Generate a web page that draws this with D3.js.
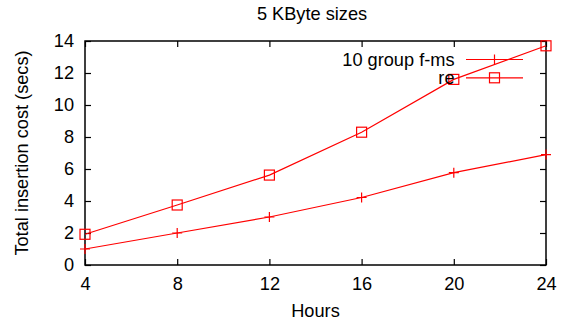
<!DOCTYPE html>
<html><head><meta charset="utf-8">
<script src="https://cdn.jsdelivr.net/npm/d3@7"></script>
<style>body{margin:0;background:#fff}svg{display:block}text{font-family:"Liberation Sans",Arial,sans-serif;fill:#000}</style>
</head><body>
<script>
const hours = [4, 8, 12, 16, 20, 24];
const fmsValues = [1.0, 2.0, 3.0, 4.22, 5.77, 6.9];
const reValues = [1.92, 3.75, 5.62, 8.3, 11.6, 13.7];
const seriesNames = ["10 group f-ms", "re"];
const xTicks = [4, 8, 12, 16, 20, 24];
const yTicks = [0, 2, 4, 6, 8, 10, 12, 14];
const title = "5 KByte sizes";
const xLabel = "Hours";
const yLabel = "Total insertion cost (secs)";

const W = 568, H = 329;
const m = {left: 85, right: 22, top: 41, bottom: 64};
const svg = d3.select("body").append("svg").attr("width", W).attr("height", H);
const x = d3.scaleLinear().domain([4, 24]).range([m.left, W - m.right]);
const y = d3.scaleLinear().domain([0, 14]).range([H - m.bottom, m.top]);
const red = "#ff0000";
const FF = "Liberation Sans, Arial, sans-serif";

// axes
const fs = 18.2;
svg.append("g").attr("transform", `translate(0,${y(0)})`)
  .call(d3.axisBottom(x).tickValues(xTicks).tickSize(-6).tickPadding(12).tickFormat(d3.format("d")))
  .call(g => { g.select(".domain").remove(); g.selectAll("text").attr("font-size", fs).attr("font-family", FF); g.selectAll("line").attr("stroke-width", 1.2); });
svg.append("g").attr("transform", `translate(0,${y(14)})`)
  .call(d3.axisTop(x).tickValues(xTicks).tickSize(-6).tickFormat(""))
  .call(g => { g.select(".domain").remove(); g.selectAll("line").attr("stroke-width", 1.2); });
svg.append("g").attr("transform", `translate(${x(4)},0)`)
  .call(d3.axisLeft(y).tickValues(yTicks).tickSize(-6).tickPadding(11).tickFormat(d3.format("d")))
  .call(g => { g.select(".domain").remove(); g.selectAll("text").attr("font-size", fs).attr("font-family", FF); g.selectAll("line").attr("stroke-width", 1.2); });
svg.append("g").attr("transform", `translate(${x(24)},0)`)
  .call(d3.axisRight(y).tickValues(yTicks).tickSize(-6).tickFormat(""))
  .call(g => { g.select(".domain").remove(); g.selectAll("line").attr("stroke-width", 1.2); });
svg.append("rect").attr("x", x(4)).attr("y", y(14)).attr("width", x(24) - x(4)).attr("height", y(0) - y(14))
  .attr("fill", "none").attr("stroke", "#000").attr("stroke-width", 1.5);

// title & labels
svg.append("text").attr("x", 312).attr("y", 20).attr("text-anchor", "middle").attr("font-size", 18.2).text(title);
svg.append("text").attr("x", (x(4) + x(24)) / 2).attr("y", 317).attr("text-anchor", "middle").attr("font-size", fs).text(xLabel);
svg.append("text").attr("transform", `translate(28,${(y(0) + y(14)) / 2}) rotate(-90)`).attr("text-anchor", "middle").attr("font-size", fs).text(yLabel);

const line = d3.line().x(d => x(d[0])).y(d => y(d[1]));
const fmsData = hours.map((h, i) => [h, fmsValues[i]]);
const reData = hours.map((h, i) => [h, reValues[i]]);

function plus(g, cx, cy) {
  g.append("path").attr("d", `M${cx - 5},${cy}H${cx + 5}M${cx},${cy - 5}V${cy + 5}`).attr("stroke", red).attr("stroke-width", 1.2).attr("fill", "none");
}
function square(g, cx, cy) {
  g.append("rect").attr("x", cx - 5).attr("y", cy - 5).attr("width", 10).attr("height", 10).attr("stroke", red).attr("stroke-width", 1.2).attr("fill", "none");
}

const plotG = svg.append("g");
plotG.append("path").datum(fmsData).attr("d", line).attr("fill", "none").attr("stroke", red).attr("stroke-width", 1.2);
fmsData.forEach(d => plus(plotG, x(d[0]), y(d[1])));
plotG.append("path").datum(reData).attr("d", line).attr("fill", "none").attr("stroke", red).attr("stroke-width", 1.2);
reData.forEach(d => square(plotG, x(d[0]), y(d[1])));

// legend
const lg = svg.append("g");
const rows = [59.5, 77.8];
seriesNames.forEach((name, i) => {
  const ly = rows[i];
  lg.append("text").attr("x", 454.5).attr("y", ly + 6.3).attr("text-anchor", "end").attr("font-size", fs).text(name);
  lg.append("line").attr("x1", 466).attr("x2", 523).attr("y1", ly).attr("y2", ly).attr("stroke", red).attr("stroke-width", 1.2);
  if (i === 0) plus(lg, 494.5, ly); else square(lg, 494.5, ly);
});
</script>
</body></html>
